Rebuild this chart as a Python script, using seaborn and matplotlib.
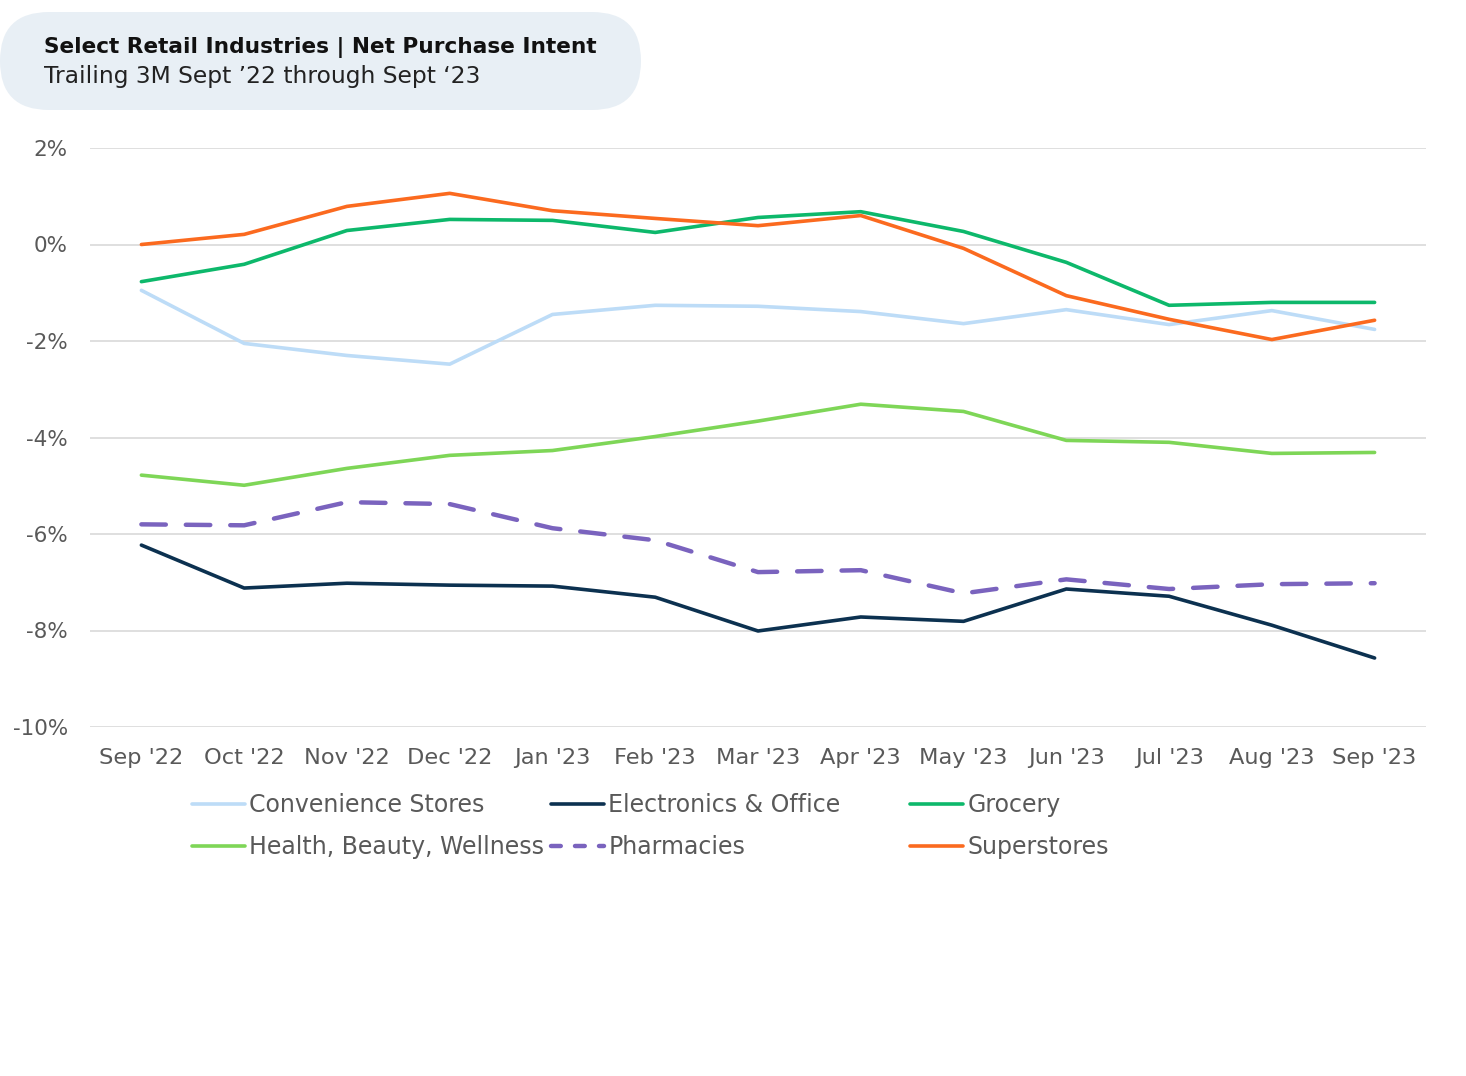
import numpy as np
import pandas as pd
import matplotlib
matplotlib.use("Agg")
import matplotlib.pyplot as plt
import seaborn as sns
from matplotlib.patches import FancyBboxPatch
from matplotlib.lines import Line2D

months = ["Sep '22", "Oct '22", "Nov '22", "Dec '22", "Jan '23", "Feb '23", "Mar '23",
          "Apr '23", "May '23", "Jun '23", "Jul '23", "Aug '23", "Sep '23"]

convenience = [-0.95, -2.05, -2.30, -2.48, -1.45, -1.26, -1.28, -1.39, -1.64, -1.35, -1.66, -1.37, -1.76]
electronics = [-6.23, -7.12, -7.02, -7.06, -7.08, -7.31, -8.01, -7.72, -7.81, -7.14, -7.29, -7.89, -8.57]
grocery = [-0.77, -0.41, 0.29, 0.52, 0.50, 0.25, 0.56, 0.68, 0.27, -0.37, -1.26, -1.20, -1.20]
health = [-4.78, -4.99, -4.64, -4.37, -4.27, -3.98, -3.66, -3.31, -3.46, -4.06, -4.10, -4.33, -4.31]
pharmacies = [-5.80, -5.82, -5.34, -5.38, -5.88, -6.13, -6.79, -6.75, -7.23, -6.94, -7.14, -7.04, -7.02]
superstores = [0.00, 0.21, 0.79, 1.06, 0.70, 0.54, 0.39, 0.60, -0.08, -1.06, -1.55, -1.97, -1.57]

series_names = ["Convenience Stores", "Electronics & Office", "Grocery",
                "Health, Beauty, Wellness", "Pharmacies", "Superstores"]
series_values = [convenience, electronics, grocery, health, pharmacies, superstores]
colors = ["#BDDCF7", "#0C3150", "#0DB86B", "#7ED657", "#7A63BE", "#FB6A1F"]

title = "Select Retail Industries | Net Purchase Intent"
subtitle = "Trailing 3M Sept \u201922 through Sept \u201823"
y_ticks = [2, 0, -2, -4, -6, -8, -10]

sns.set_theme(style="white")
plt.rcParams["font.family"] = ["DejaVu Sans"]

W, H = 1466, 1076
fig = plt.figure(figsize=(W / 100, H / 100), dpi=100)

# Title box
bg = fig.add_axes([0, 0, 1, 1], zorder=0)
bg.set_xlim(0, W)
bg.set_ylim(H, 0)
bg.axis("off")
box = FancyBboxPatch((0, 12), 641, 98, boxstyle="round,pad=0,rounding_size=49",
                     facecolor="#E8EFF5", edgecolor="none")
bg.add_patch(box)
bg.text(44, 47, title, fontsize=15.6, fontweight="bold", color="#111111", va="center", ha="left")
bg.text(44, 76, subtitle, fontsize=16.8, color="#222222", va="center", ha="left")

ax = fig.add_axes([90 / W, 1 - 727 / H, (1426 - 90) / W, (727 - 148) / H], zorder=1)
ax.patch.set_alpha(0)

handles = []
for name, vals, col in zip(series_names, series_values, colors):
    df = pd.DataFrame({"month": months, "value": vals})
    if name == "Pharmacies":
        sns.lineplot(data=df, x="month", y="value", ax=ax, color=col, lw=3.2,
                     sort=False, legend=False)
        ln = ax.lines[-1]
        ln.set_dashes((5.5, 4.5))
        ln.set_dash_capstyle("round")
    else:
        sns.lineplot(data=df, x="month", y="value", ax=ax, color=col, lw=2.6,
                     sort=False, legend=False)
        ln = ax.lines[-1]
        ln.set_solid_capstyle("round")
    handles.append(ln)

ax.set_xlim(-0.5, len(months) - 0.5)
ax.set_ylim(-10, 2)
ax.set_yticks(y_ticks)
ax.set_yticklabels([f"{t}%" for t in y_ticks])
ax.set_xticks(range(len(months)))
ax.set_xticklabels(months)
ax.set_xlabel("")
ax.set_ylabel("")
ax.grid(axis="y", color="#D9D9D9", lw=1.2)
ax.grid(axis="x", visible=False)
ax.set_axisbelow(True)
for s in ax.spines.values():
    s.set_visible(False)
ax.tick_params(axis="y", length=0, pad=16, labelsize=15.5, labelcolor="#595959")
ax.tick_params(axis="x", length=0, pad=15, labelsize=16.2, labelcolor="#595959")

# Legend: three columns placed explicitly
col_x = [192, 551, 910]
for ci, cx in enumerate(col_x):
    idxs = [ci, ci + 3]
    hs = []
    for i in idxs:
        src = handles[i]
        h = Line2D([], [], color=src.get_color(), lw=src.get_linewidth(),
                   linestyle=src.get_linestyle())
        if series_names[i] == "Pharmacies":
            h.set_dashes((2.2, 3.2))
            h.set_dash_capstyle("round")
        hs.append(h)
    leg = fig.legend(hs, [series_names[i] for i in idxs], loc="upper left",
                     bbox_to_anchor=(cx / W, 1 - 793 / H), bbox_transform=fig.transFigure,
                     frameon=False, fontsize=17, handlelength=2.25, handletextpad=0.17,
                     borderpad=0, borderaxespad=0, labelspacing=0.78, labelcolor="#595959")

fig.savefig("out.png", dpi=100, facecolor="white")
